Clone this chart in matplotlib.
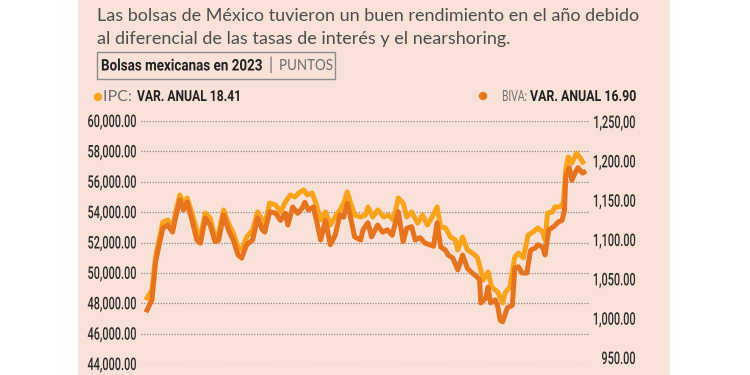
import matplotlib.pyplot as plt
from matplotlib.patches import Rectangle, Circle
from matplotlib.patheffects import AbstractPathEffect
from matplotlib.ticker import FixedLocator, FixedFormatter
from matplotlib.transforms import Affine2D, Bbox
import pandas as pd

plt.rcParams['font.family'] = ['Lato', 'DejaVu Sans']

# IPC (eje izquierdo, puntos)
ipc_fechas = ['2023-01-02', '2023-01-06', '2023-01-09', '2023-01-11', '2023-01-15', '2023-01-19',
              '2023-01-23', '2023-01-25', '2023-01-29',
              '2023-02-01', '2023-02-04', '2023-02-08', '2023-02-12', '2023-02-15', '2023-02-19',
              '2023-02-23', '2023-02-27',
              '2023-03-02', '2023-03-06', '2023-03-10', '2023-03-14', '2023-03-18', '2023-03-21',
              '2023-03-25', '2023-03-30',
              '2023-04-03', '2023-04-07', '2023-04-09', '2023-04-13', '2023-04-18', '2023-04-22',
              '2023-04-26', '2023-04-30',
              '2023-05-04', '2023-05-07', '2023-05-11', '2023-05-14', '2023-05-18', '2023-05-21',
              '2023-05-25', '2023-05-29',
              '2023-06-02', '2023-06-06', '2023-06-10', '2023-06-13', '2023-06-16', '2023-06-18',
              '2023-06-22', '2023-06-27',
              '2023-07-01', '2023-07-03', '2023-07-07', '2023-07-11', '2023-07-16', '2023-07-20',
              '2023-07-24', '2023-07-28',
              '2023-08-01', '2023-08-04', '2023-08-08', '2023-08-13', '2023-08-17', '2023-08-21',
              '2023-08-25', '2023-08-29',
              '2023-09-01', '2023-09-05', '2023-09-09', '2023-09-13', '2023-09-15', '2023-09-19',
              '2023-09-23', '2023-09-27',
              '2023-10-01', '2023-10-04', '2023-10-06', '2023-10-10', '2023-10-13', '2023-10-18',
              '2023-10-22', '2023-10-24', '2023-10-28',
              '2023-11-01', '2023-11-04', '2023-11-08', '2023-11-12', '2023-11-16', '2023-11-20',
              '2023-11-24', '2023-11-26', '2023-11-28',
              '2023-12-02', '2023-12-04', '2023-12-08', '2023-12-11', '2023-12-13', '2023-12-15',
              '2023-12-18', '2023-12-22', '2023-12-25', '2023-12-27']
ipc_valores = [48350, 48870, 51050, 51840, 53350, 53480, 52960, 53810, 55130,
               54600, 54930, 53940, 52820, 52360, 53940, 53610, 52360,
               52630, 54140, 53280, 52630, 51700, 51510, 52360, 52820,
               54010, 53480, 53150, 54600, 54470, 54010, 54670, 55130,
               55000, 55260, 55460, 55130, 55260, 54600, 53480, 54010,
               53150, 53680, 54140, 54600, 55330, 54800, 53810, 53680,
               53810, 54340, 53680, 54140, 53680, 53810, 53480, 54930,
               54600, 53680, 54010, 53280, 53810, 53150, 53680, 54340,
               53020, 52960, 52360, 52170, 51510, 52360, 51510, 51310,
               51050, 50190, 49530, 50060, 49070, 48740, 48020, 48680, 49070,
               51050, 51310, 50980, 52490, 52690, 52960, 52690, 52170, 53940,
               54010, 54340, 54340, 54600, 56770, 57630, 57230, 57890, 57560, 57300]

# BIVA (eje derecho)
biva_fechas = ['2023-01-02', '2023-01-06', '2023-01-09', '2023-01-11', '2023-01-15', '2023-01-19',
               '2023-01-23', '2023-01-25', '2023-01-29',
               '2023-02-01', '2023-02-04', '2023-02-08', '2023-02-12', '2023-02-15', '2023-02-19',
               '2023-02-23', '2023-02-27',
               '2023-03-02', '2023-03-06', '2023-03-10', '2023-03-14', '2023-03-18', '2023-03-21',
               '2023-03-25', '2023-03-30',
               '2023-04-03', '2023-04-07', '2023-04-09', '2023-04-13', '2023-04-18', '2023-04-22',
               '2023-04-26', '2023-04-28',
               '2023-05-02', '2023-05-06', '2023-05-10', '2023-05-12', '2023-05-15', '2023-05-19',
               '2023-05-22', '2023-05-25', '2023-05-29',
               '2023-06-02', '2023-06-06', '2023-06-10', '2023-06-13', '2023-06-16', '2023-06-18',
               '2023-06-22', '2023-06-27', '2023-06-29',
               '2023-07-03', '2023-07-06', '2023-07-11', '2023-07-15', '2023-07-19', '2023-07-23',
               '2023-07-28',
               '2023-08-01', '2023-08-04', '2023-08-08', '2023-08-11', '2023-08-15', '2023-08-19',
               '2023-08-23', '2023-08-26', '2023-08-29',
               '2023-09-01', '2023-09-05', '2023-09-07', '2023-09-11', '2023-09-15', '2023-09-17',
               '2023-09-19', '2023-09-23', '2023-09-27',
               '2023-10-01', '2023-10-03', '2023-10-04', '2023-10-08', '2023-10-10', '2023-10-12',
               '2023-10-16', '2023-10-18', '2023-10-20', '2023-10-22', '2023-10-26', '2023-10-30',
               '2023-11-01', '2023-11-04', '2023-11-07', '2023-11-11', '2023-11-14', '2023-11-18',
               '2023-11-20', '2023-11-24', '2023-11-26', '2023-11-29',
               '2023-12-03', '2023-12-07', '2023-12-10', '2023-12-12', '2023-12-13', '2023-12-16',
               '2023-12-18', '2023-12-21', '2023-12-23', '2023-12-27', '2023-12-28']
biva_valores = [1011, 1024, 1072, 1087, 1115, 1119, 1110, 1125, 1151,
                1138, 1148, 1125, 1100, 1096, 1128, 1119, 1098,
                1100, 1132, 1113, 1100, 1081, 1077, 1094, 1100,
                1128, 1113, 1110, 1136, 1134, 1125, 1134, 1119,
                1142, 1134, 1141, 1148, 1138, 1142, 1122, 1100, 1125,
                1094, 1106, 1132, 1129, 1147, 1134, 1104, 1100, 1113,
                1122, 1104, 1119, 1110, 1113, 1106, 1136,
                1098, 1115, 1117, 1100, 1103, 1096, 1094, 1092, 1122,
                1091, 1087, 1081, 1077, 1062, 1071, 1081, 1064, 1058,
                1053, 1049, 1020, 1026, 1040, 1020, 1024, 1015, 998, 996, 1014, 1017,
                1064, 1066, 1058, 1058, 1087, 1090, 1094, 1091, 1081, 1113,
                1117, 1123, 1125, 1138, 1180, 1192, 1176, 1186, 1192, 1185, 1186]

ticks_izq = [44000, 46000, 48000, 50000, 52000, 54000, 56000, 58000, 60000]
etiquetas_izq = ['44,000.00', '46,000.00', '48,000.00', '50,000.00', '52,000.00',
                 '54,000.00', '56,000.00', '58,000.00', '60,000.00']
ticks_der = [950, 1000, 1050, 1100, 1150, 1200, 1250]
etiquetas_der = ['950.00', '1,000.00', '1,050.00', '1,100.00', '1,150.00', '1,200.00', '1,250,00']

titulo = ['Las bolsas de México tuvieron un buen rendimiento en el año debido',
          'al diferencial de las tasas de interés y el nearshoring.']

col_ipc = '#F9A31C'
col_biva = '#E6731D'
fondo = '#F8E2D7'
gris = '#707070'
negro = '#222222'


class Estrecho(AbstractPathEffect):
    """Comprime el texto en horizontal (tipografia condensada)."""

    def __init__(self, factor, ancla='left'):
        super().__init__()
        self.factor = factor
        self.ancla = ancla

    def draw_path(self, renderer, gc, tpath, affine, rgbFace=None):
        if self.ancla == 'right':
            xa = affine.transform(tpath.vertices)[:, 0].max()
        else:
            xa = affine.get_matrix()[0, 2]
        t = affine + Affine2D().translate(-xa, 0).scale(self.factor, 1).translate(xa, 0)
        renderer.draw_path(gc, tpath, t, rgbFace)


fig = plt.figure(figsize=(7.5, 3.75), dpi=100)
rend = fig.canvas.get_renderer()


def estrechar(t, factor=None, ancho=None, ancla='left'):
    orig = t.get_window_extent
    if factor is None:
        factor = ancho / orig(rend).width
    t.set_path_effects([Estrecho(factor, ancla)])

    # la caja del texto tambien se estrecha
    def caja(renderer=None, dpi=None):
        bb = orig(renderer, dpi)
        w = bb.width * factor
        if ancla == 'right':
            return Bbox([[bb.x1 - w, bb.y0], [bb.x1, bb.y1]])
        return Bbox([[bb.x0, bb.y0], [bb.x0 + w, bb.y1]])
    t.get_window_extent = caja


# capa de fondo en coordenadas de pixel
bg = fig.add_axes([0, 0, 1, 1], zorder=0)
bg.set_xlim(0, 750)
bg.set_ylim(375, 0)
bg.axis('off')
bg.add_patch(Rectangle((78, 0), 592, 375, color=fondo, lw=0))

for i, linea in enumerate(titulo):
    bg.text(97, 16 + i * 23, linea, fontsize=13, color='#4d4d4d', va='center')

bg.add_patch(Rectangle((97, 52), 238, 27, fill=False, ec='#8c8c8c', lw=1))
t = bg.text(101, 66, 'Bolsas mexicanas en 2023', family='Roboto', fontweight='bold',
            fontsize=11.5, color=negro, va='center')
estrechar(t, ancho=161)
bg.text(268, 65, '|', fontsize=12, color=gris, va='center')
t = bg.text(279, 66, 'PUNTOS', fontsize=11, color=gris, va='center')
estrechar(t, ancho=54)

bg.add_patch(Circle((98, 97), 4.2, color=col_ipc, lw=0))
t = bg.text(103, 97, 'IPC:', fontsize=11, color=gris, va='center')
estrechar(t, ancho=29)
t = bg.text(137, 97, 'VAR. ANUAL 18.41', family='Roboto', fontweight='bold', fontsize=11,
            color=negro, va='center')
estrechar(t, ancho=104)
bg.add_patch(Circle((483, 96), 4.2, color=col_biva, lw=0))
t = bg.text(502, 97, 'BIVA:', fontsize=11, color=gris, va='center')
estrechar(t, ancho=25)
t = bg.text(530, 97, 'VAR. ANUAL 16.90', family='Roboto', fontweight='bold', fontsize=11,
            color=negro, va='center')
estrechar(t, ancho=106)

# grafica
ax = fig.add_axes([141 / 750, 11 / 375, 449 / 750, 243 / 375], zorder=1)
ax.patch.set_alpha(0)
ax.plot(pd.to_datetime(ipc_fechas), ipc_valores, color=col_ipc, lw=3.6, solid_joinstyle='round')
ax.set_ylim(44000, 60000)
ax.set_xlim(pd.Timestamp('2022-12-28'), pd.Timestamp('2024-01-02'))
ax.yaxis.set_major_locator(FixedLocator(ticks_izq))
ax.yaxis.set_major_formatter(FixedFormatter(etiquetas_izq))
ax.grid(axis='y', color='#8a8a8a', linestyle=(0, (1, 1.2)), lw=0.9)
ax.set_xticks([])
for s in ax.spines.values():
    s.set_visible(False)
ax.tick_params(axis='y', length=0, pad=3, labelsize=12.5, labelcolor='#2b2b2b')

ax2 = ax.twinx()
ax2.plot(pd.to_datetime(biva_fechas), biva_valores, color=col_biva, lw=3.6, solid_joinstyle='round')
ax2.set_ylim(942.4, 1251.3)
ax2.yaxis.set_major_locator(FixedLocator(ticks_der))
ax2.yaxis.set_major_formatter(FixedFormatter(etiquetas_der))
for s in ax2.spines.values():
    s.set_visible(False)
ax2.tick_params(axis='y', length=0, pad=33, labelsize=12.5, labelcolor='#2b2b2b')

# etiquetas de los ejes en letra condensada
for t in ax.get_yticklabels() + ax2.get_yticklabels():
    t.set_family('Roboto')
    t.set_fontweight('medium')
for t in ax2.get_yticklabels():
    t.set_horizontalalignment('right')
f_eje = 49 / ax.get_yticklabels()[-1].get_window_extent(rend).width
for t in ax.get_yticklabels() + ax2.get_yticklabels():
    estrechar(t, factor=f_eje, ancla='right')

fig.savefig('out.png', dpi=100)
